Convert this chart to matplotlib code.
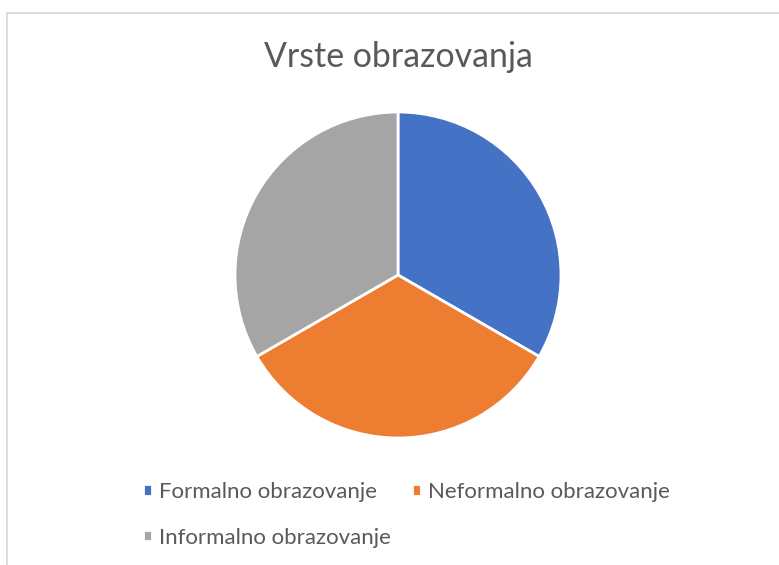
import matplotlib
matplotlib.use("Agg")
import matplotlib.pyplot as plt
from matplotlib.patches import Rectangle

# data
labels = ["Formalno obrazovanje", "Neformalno obrazovanje", "Informalno obrazovanje"]
values = [1, 1, 1]
colors = ["#4472C4", "#ED7D31", "#A5A5A5"]
title = "Vrste obrazovanja"

plt.rcParams["font.family"] = ["Lato", "DejaVu Sans"]
text_color = "#595959"

W, H = 779, 565
fig = plt.figure(figsize=(W / 100, H / 100), dpi=100)

# chart border (cut off on the right and bottom)
fig.patches.append(Rectangle((7 / W, -0.1), 1.2, 1 - 12.5 / H + 0.1,
                             transform=fig.transFigure, fill=False,
                             edgecolor="#D9D9D9", linewidth=1.3))

cx, cy, r = 398, 275, 163
ax = fig.add_axes([(cx - r) / W, (H - cy - r) / H, 2 * r / W, 2 * r / H])
wedges, _ = ax.pie(values, colors=colors, startangle=90, counterclock=False,
                   wedgeprops=dict(edgecolor="white", linewidth=2))
ax.set_xlim(-1, 1)
ax.set_ylim(-1, 1)
ax.set_aspect("equal")

fig.text(cx / W, 1 - 57 / H, title, ha="center", va="center",
         fontsize=24.4, color=text_color)

# row-wise order like Excel: reorder for column-wise filling
order = [0, 2, 1]
leg = fig.legend([wedges[i] for i in order], [labels[i] for i in order],
                 ncol=2, loc="upper left", bbox_to_anchor=(143 / W, 1 - 482 / H),
                 frameon=False, fontsize=16, labelcolor=text_color,
                 borderpad=0, borderaxespad=0,
                 handlelength=0.42, handleheight=0.42, handletextpad=0.3,
                 columnspacing=0.95, labelspacing=1.15)

fig.savefig("out.png", dpi=100)
